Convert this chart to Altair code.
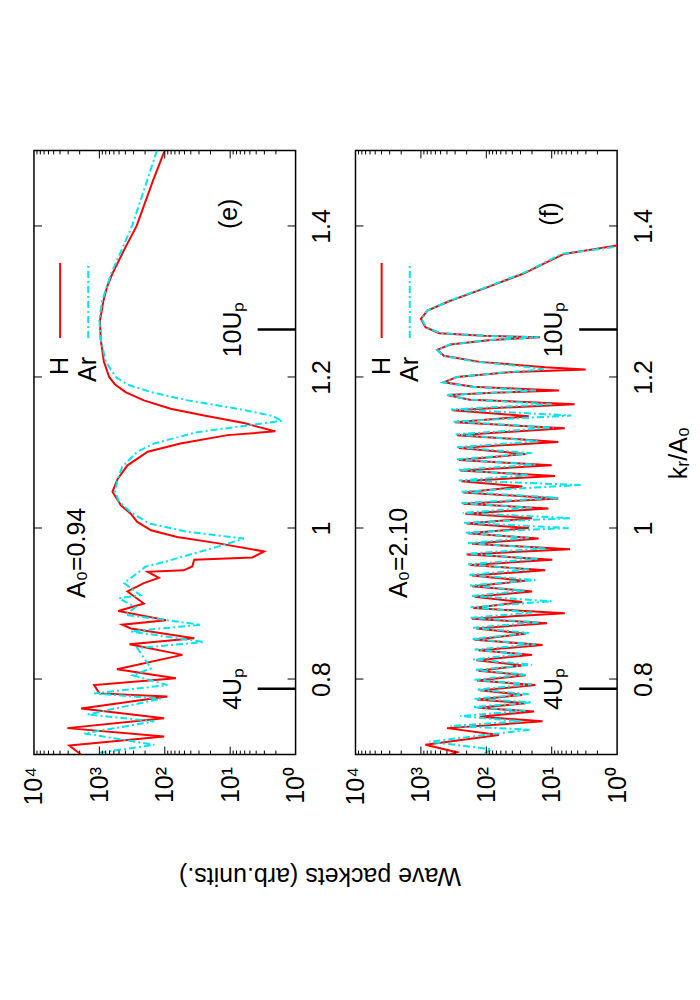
import altair as alt
import pandas as pd

FONT = "Liberation Sans"
W, H = 262, 605
RED = "#ff0000"
CYAN = "#00e5ee"

# ---- data: (k_r/A_0, log10(wave packet yield)) ----
E_H = [(1.500,2.00),(1.460,2.18),(1.400,2.43),(1.372,2.60),(1.337,2.80),(1.320,2.88),(1.300,2.94),(1.275,2.99),
       (1.250,2.98),(1.220,2.93),(1.200,2.85),(1.190,2.76),(1.180,2.60),(1.169,2.32),(1.158,1.91),
       (1.149,1.40),(1.139,0.79),(1.128,0.31),(1.123,1.04),(1.112,1.76),(1.101,2.26),(1.083,2.57),
       (1.065,2.72),(1.048,2.80),(1.030,2.67),(1.019,2.52),(1.008,2.42),(0.997,2.21),(0.988,1.81),
       (0.980,1.20),(0.969,0.48),(0.961,0.66),(0.958,1.55),(0.949,1.58),(0.944,1.71),(0.942,2.26),
       (0.934,2.09),(0.927,2.32),(0.916,2.57),(0.900,2.32),(0.890,2.71),(0.878,1.98),(0.872,2.65),
       (0.867,2.52),(0.854,1.55),(0.846,2.54),(0.832,1.73),(0.813,2.73),(0.801,1.83),(0.792,3.08),
       (0.781,3.00),(0.777,1.96),(0.761,3.28),(0.748,2.01),(0.735,3.49),(0.724,2.01),(0.712,3.46),
       (0.700,3.28)]
E_AR = [(1.500,2.12),(1.460,2.27),(1.400,2.50),(1.372,2.64),(1.337,2.82),(1.300,2.96),(1.275,3.00),(1.250,2.98),
        (1.220,2.90),(1.200,2.75),(1.190,2.57),(1.180,2.21),(1.169,1.65),(1.158,0.89),(1.149,0.38),
        (1.142,0.20),(1.134,0.89),(1.127,1.50),(1.112,2.16),(1.101,2.42),(1.081,2.65),(1.065,2.72),
        (1.048,2.76),(1.035,2.70),(1.021,2.52),(1.006,2.24),(0.995,1.65),(0.986,0.79),(0.975,1.20),
        (0.964,1.65),(0.955,2.01),(0.949,2.29),(0.927,2.62),(0.911,2.37),(0.907,2.70),(0.895,2.45),
        (0.885,2.60),(0.872,1.45),(0.863,2.52),(0.849,1.40),(0.841,2.42),(0.814,2.21),(0.805,2.49),
        (0.792,1.96),(0.781,3.08),(0.774,2.06),(0.753,3.18),(0.744,2.16),(0.728,3.23),(0.713,2.16),
        (0.702,3.03)]
F_H = [(1.374,0.00),(1.363,0.81),(1.350,1.12),(1.337,1.43),(1.317,2.04),(1.301,2.55),(1.288,2.90),
       (1.277,3.00),(1.266,2.93),(1.258,2.72),(1.2545,2.04),(1.2525,1.18),(1.249,1.93),(1.243,2.55),
       (1.236,2.75),(1.228,2.65),(1.220,2.10),(1.213,1.10),(1.210,0.48),(1.206,1.70),(1.200,2.45),
       (1.193,2.65),(1.187,2.20),(1.182,0.89),(1.179,1.90),(1.176,2.60),(1.170,2.25),(1.164,0.65),
       (1.156,2.52),(1.148,1.35),(1.140,2.48),(1.132,0.80),(1.123,2.45),(1.114,0.90),(1.106,2.42),
       (1.098,1.40),(1.090,2.42),(1.083,1.00),(1.076,2.40),(1.069,0.95),(1.062,2.38),(1.055,1.45),
       (1.047,2.35),(1.039,0.90),(1.032,2.35),(1.026,1.05),(1.019,2.32),(1.013,1.30),(1.006,2.30),
       (1.000,1.35),(0.993,2.28),(0.986,1.20),(0.979,2.22),(0.972,0.72),(0.965,2.30),(0.958,0.99),
       (0.951,2.25),(0.944,1.10),(0.937,2.22),(0.930,1.40),(0.923,2.22),(0.916,1.30),(0.909,2.18),
       (0.902,1.45),(0.894,2.20),(0.887,0.80),(0.880,2.22),(0.874,1.07),(0.867,2.15),(0.860,1.40),
       (0.852,2.18),(0.845,1.14),(0.838,2.12),(0.832,1.30),(0.825,2.15),(0.818,1.45),(0.811,2.12),
       (0.805,1.40),(0.798,2.14),(0.792,1.25),(0.785,2.10),(0.779,1.45),(0.773,2.14),(0.768,1.40),
       (0.762,2.12),(0.757,1.27),(0.750,2.10),(0.744,1.14),(0.735,2.60),(0.726,1.81),(0.713,2.93),
       (0.703,2.45),(0.700,2.55)]
F_AR = [(1.372,0.05),(1.363,0.85),(1.350,1.14),(1.337,1.45),(1.317,2.06),(1.301,2.56),(1.288,2.90),
        (1.277,2.99),(1.266,2.92),(1.258,2.70),(1.2545,2.02),(1.2525,1.20),(1.249,1.95),(1.243,2.56),
        (1.236,2.75),(1.228,2.66),(1.220,2.15),(1.213,1.35),(1.210,1.12),(1.206,1.75),(1.200,2.45),
        (1.193,2.66),(1.187,2.25),(1.182,1.24),(1.179,1.95),(1.176,2.60),(1.170,2.25),(1.164,1.00),
        (1.157,2.54),(1.149,0.70),(1.141,2.50),(1.133,0.97),(1.124,2.47),(1.115,1.20),(1.107,2.45),
        (1.099,1.30),(1.091,2.45),(1.084,1.25),(1.077,2.43),(1.070,1.35),(1.063,2.42),(1.057,0.56),
        (1.048,2.38),(1.040,0.89),(1.033,2.38),(1.027,1.30),(1.020,2.36),(1.013,0.71),(1.007,2.34),
        (1.000,0.74),(0.994,2.32),(0.987,1.35),(0.980,2.28),(0.973,1.10),(0.966,2.30),(0.959,1.20),
        (0.952,2.28),(0.945,1.35),(0.938,2.26),(0.931,1.25),(0.924,2.25),(0.917,1.40),(0.910,2.22),
        (0.903,1.00),(0.895,2.24),(0.888,1.30),(0.881,2.24),(0.875,1.20),(0.868,2.20),(0.861,1.35),
        (0.853,2.22),(0.846,1.25),(0.839,2.18),(0.833,1.45),(0.826,2.20),(0.819,1.30),(0.812,2.18),
        (0.806,1.40),(0.799,2.18),(0.793,1.31),(0.786,2.15),(0.780,1.35),(0.774,2.18),(0.769,1.30),
        (0.763,2.20),(0.758,1.40),(0.751,2.40),(0.744,1.45),(0.738,2.55),(0.733,1.34),(0.717,2.87),
        (0.707,1.92),(0.700,2.05)]

K_TICKS = [0.8, 1.0, 1.2, 1.4]
DECADES = [1, 10, 100, 1000, 10000]
MINOR = [m * d for d in [1, 10, 100, 1000] for m in range(2, 10)]
MARKERS = [("4Uₚ", 0.787), ("10Uₚ", 1.263)]
LEGEND = [("H", 3.60, RED), ("Ar", 3.17, CYAN)]

SUP = "datum.value == 1 ? '10⁰' : datum.value == 10 ? '10¹' : datum.value == 100 ? '10²' : datum.value == 1000 ? '10³' : '10⁴'"


def series_df(pairs):
    return pd.DataFrame({"i": range(len(pairs)), "k": [p[0] for p in pairs], "v": [10 ** p[1] for p in pairs]})


def panel(h, ar, tag, a0, left):
    if left:
        xaxis = alt.Axis(values=DECADES, labelExpr=SUP, labelAngle=270, labelAlign="right",
                         labelBaseline="middle", labelPadding=12, ticks=False, domain=False, grid=False,
                         title="Wave packets (arb.units.)", titleAngle=180, titleX=286, titleY=121,
                         titleAlign="center", titleBaseline="middle")
        yaxis = alt.Axis(orient="right", values=K_TICKS, format="~g", labelAngle=270, labelAlign="center",
                         labelBaseline="top", labelPadding=14, ticks=False, domain=False, grid=False, title="")
    else:
        xaxis = alt.Axis(values=DECADES, labelExpr=SUP, labelAngle=270, labelAlign="right",
                         labelBaseline="middle", labelPadding=12, ticks=False, domain=False, grid=False, title="")
        yaxis = alt.Axis(orient="right", values=K_TICKS, format="~g", labelAngle=270, labelAlign="center",
                         labelBaseline="top", labelPadding=14, ticks=False, domain=False, grid=False,
                         title="kᵣ/A₀", titleAngle=270, titleX=61, titleY=H / 2,
                         titleAlign="center", titleBaseline="middle")
    xs = alt.Scale(type="log", domain=[1, 10000], reverse=True)
    ys = alt.Scale(domain=[0.7, 1.5], nice=False, zero=False)
    X = alt.X("v:Q", scale=xs, axis=xaxis)
    Y = alt.Y("k:Q", scale=ys, axis=yaxis)

    red = alt.Chart(series_df(h)).mark_line(color=RED, strokeWidth=2, clip=True).encode(x=X, y=Y, order="i:Q")
    cyan = alt.Chart(series_df(ar)).mark_line(color=CYAN, strokeWidth=2, strokeDash=[7, 3, 2, 3],
                                              clip=True).encode(x=X, y=Y, order="i:Q")

    kt = pd.DataFrame({"k": K_TICKS})
    kl = alt.Chart(kt).mark_rule(color="black", strokeWidth=1).encode(y=Y, x=alt.value(0), x2=alt.value(8))
    kr = alt.Chart(kt).mark_rule(color="black", strokeWidth=1).encode(y=Y, x=alt.value(W - 8), x2=alt.value(W))
    mj = pd.DataFrame({"v": DECADES[1:-1]})
    mn = pd.DataFrame({"v": MINOR})
    vb = alt.Chart(mj).mark_rule(color="black", strokeWidth=1).encode(x=X, y=alt.value(H - 8), y2=alt.value(H))
    vt = alt.Chart(mj).mark_rule(color="black", strokeWidth=1).encode(x=X, y=alt.value(0), y2=alt.value(8))
    mb = alt.Chart(mn).mark_rule(color="black", strokeWidth=1).encode(x=X, y=alt.value(H - 4), y2=alt.value(H))
    mt = alt.Chart(mn).mark_rule(color="black", strokeWidth=1).encode(x=X, y=alt.value(0), y2=alt.value(4))

    mk = pd.DataFrame({"t": [m[0] for m in MARKERS], "k": [m[1] for m in MARKERS],
                       "v": [1.0] * len(MARKERS), "v2": [10 ** 0.58] * len(MARKERS),
                       "vt": [10 ** 0.96] * len(MARKERS)})
    mrule = alt.Chart(mk).mark_rule(color="black", strokeWidth=2.5).encode(x=X, x2="v2:Q", y=Y)
    mtext = alt.Chart(mk).mark_text(angle=270, align="center", baseline="middle", font=FONT,
                                    fontSize=25).encode(x=alt.X("vt:Q", scale=xs, axis=xaxis), y=Y, text="t:N")

    lg = pd.DataFrame({"t": [l[0] for l in LEGEND], "v": [10 ** l[1] for l in LEGEND],
                       "c": [l[2] for l in LEGEND], "k": [1.2516] * 2, "k2": [1.351] * 2,
                       "kt": [1.2265] * 2})
    lrule_r = alt.Chart(lg.iloc[[0]]).mark_rule(color=RED, strokeWidth=2).encode(x=X, y=Y, y2="k2:Q")
    lrule_c = alt.Chart(lg.iloc[[1]]).mark_rule(color=CYAN, strokeWidth=2, strokeDash=[7, 3, 2, 3]).encode(
        x=X, y=Y, y2="k2:Q")
    ltext = alt.Chart(lg).mark_text(angle=270, align="right", baseline="middle", font=FONT,
                                    fontSize=25).encode(x=X, y=alt.Y("kt:Q", scale=ys, axis=yaxis), text="t:N")

    ann = pd.DataFrame({"t": [tag, a0], "v": [10 ** 1.02, 10 ** 3.34], "k": [1.416, 0.967]})
    atext = alt.Chart(ann).mark_text(angle=270, align="center", baseline="middle", font=FONT,
                                     fontSize=25).encode(x=X, y=Y, text="t:N")

    return alt.layer(red, cyan, kl, kr, vb, vt, mb, mt, mrule, mtext, lrule_r, lrule_c, ltext, atext).properties(
        width=W, height=H)


chart = alt.hconcat(
    panel(E_H, E_AR, "(e)", "A₀=0.94", True),
    panel(F_H, F_AR, "(f)", "A₀=2.10", False),
    spacing=60, bounds="flush",
).properties(
    padding={"left": 13, "top": 140, "right": 0, "bottom": 5}
).configure_view(
    stroke="black", strokeWidth=1.5
).configure_axis(
    labelFont=FONT, titleFont=FONT, labelFontSize=25, titleFontSize=25, titleFontWeight="normal",
    labelColor="black", titleColor="black"
)

chart.save("out.html", embed_options={"renderer": "svg", "actions": False})
